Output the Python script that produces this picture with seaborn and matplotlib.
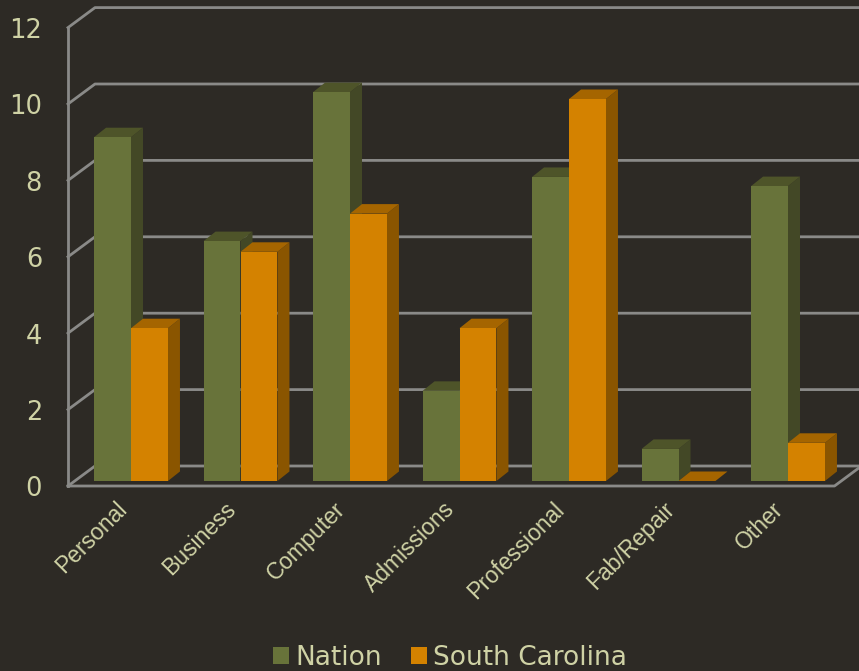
"""Faux 3D grouped bar chart: Nation vs South Carolina."""

import matplotlib.pyplot as plt
import numpy as np
import pandas as pd
import seaborn as sns
from matplotlib.lines import Line2D
from matplotlib.patches import Patch, Polygon
from matplotlib.transforms import IdentityTransform, ScaledTranslation

categories = ["Personal", "Business", "Computer", "Admissions", "Professional", "Fab/Repair", "Other"]
nation = [9.0, 6.28, 10.18, 2.36, 7.96, 0.84, 7.72]
south_carolina = [4, 6, 7, 4, 10, 0, 1]
y_ticks = [0, 2, 4, 6, 8, 10, 12]

BG = "#2d2a25"
GRID = "#8a8a88"
TEXT = "#cfd2a5"
COLORS = {"Nation": "#68733a", "South Carolina": "#d48200"}
SIDES = {"Nation": "#434826", "South Carolina": "#8a5500"}
TOPS = {"Nation": "#4e5429", "South Carolina": "#a56500"}

W, H = 859, 671
DEPTH = (12, 9.5)  # bar depth in pixels
BACK = (18.75, 15)  # back wall relative to bar plane
FRONT = (-8.25, -5)  # front edge of the floor relative to bar plane

sns.set_theme(style="dark", rc={"figure.facecolor": BG, "axes.facecolor": BG})

df = pd.DataFrame({
    "category": categories * 2,
    "value": nation + south_carolina,
    "series": ["Nation"] * len(nation) + ["South Carolina"] * len(south_carolina),
})

fig = plt.figure(figsize=(W / 100, H / 100), dpi=100)
ax = fig.add_axes([76.25 / W, (H - 481) / H, 766.5 / W, 458.4 / H])
sns.barplot(
    data=df, x="category", y="value", hue="series", palette=COLORS,
    width=0.675, gap=0, saturation=1, legend=False, ax=ax, zorder=4, linewidth=0,
)
ax.set_xlim(-0.5, len(categories) - 0.5)
ax.set_ylim(0, 12)
ax.patch.set_alpha(0)
for spine in ax.spines.values():
    spine.set_visible(False)
ax.set_xlabel("")
ax.set_ylabel("")


def px(x, y, off=(0, 0)):
    """Data point to display pixels, moved by a pixel offset."""
    return ax.transData.transform((x, y)) + np.array(off)


def line(points, lw=2.0):
    xs, ys = zip(*points)
    ax.add_line(Line2D(xs, ys, color=GRID, lw=lw, transform=IdentityTransform(), zorder=1,
                       clip_on=False, solid_capstyle="projecting"))


# walls and floor
x_l, x_r = ax.get_xlim()
for v in y_ticks:
    line([px(x_l, v, FRONT), px(x_l, v, BACK), (W + 5, px(x_l, v, BACK)[1])])
line([px(x_l, 0, FRONT), px(x_l, 12, FRONT)])
line([px(x_l, 0, FRONT), px(x_r, 0, FRONT), px(x_r, 0, BACK)])

# side and top faces for every bar
for k, (name, container) in enumerate(zip(COLORS, ax.containers)):
    for bar in container:
        x0, x1 = bar.get_x(), bar.get_x() + bar.get_width()
        h = bar.get_height()
        side = [px(x1, 0), px(x1, 0, DEPTH), px(x1, h, DEPTH), px(x1, h)]
        top = [px(x0, h), px(x1, h), px(x1, h, DEPTH), px(x0, h, DEPTH)]
        for pts, color in ((side, SIDES[name]), (top, TOPS[name])):
            ax.add_patch(Polygon(pts, closed=True, facecolor=color, edgecolor="none",
                                 transform=IdentityTransform(), clip_on=False, zorder=2 + k * 0.5))

# tick labels
ax.set_yticks([])
ax.tick_params(axis="x", length=0, pad=12)
ax.set_xticks(range(len(categories)))
ax.set_xticklabels(categories, rotation=45, ha="right", rotation_mode="anchor", color=TEXT)
shift = ScaledTranslation(-0.16, 0, fig.dpi_scale_trans)
for label in ax.get_xticklabels():
    label.set_fontfamily("Liberation Sans")
    label.set_fontsize(16.5)
    label.set_transform(label.get_transform() + shift)
for v in y_ticks:
    x_px, y_px = px(x_l, v, FRONT)
    fig.text((x_px - 26) / W, (y_px - 3.5) / H, str(v), ha="right", va="center",
             fontsize=18.5, color=TEXT, family="DejaVu Sans")

handles = [Patch(facecolor=c, edgecolor="none", label=n) for n, c in COLORS.items()]
fig.legend(
    handles=handles, loc="center", bbox_to_anchor=(450 / W, (H - 658) / H), ncol=2,
    frameon=False, fontsize=19, labelcolor=TEXT, handlelength=0.6, handleheight=0.6,
    handletextpad=0.25, columnspacing=1.1,
)

fig.savefig("out.png", dpi=100, facecolor=BG)
